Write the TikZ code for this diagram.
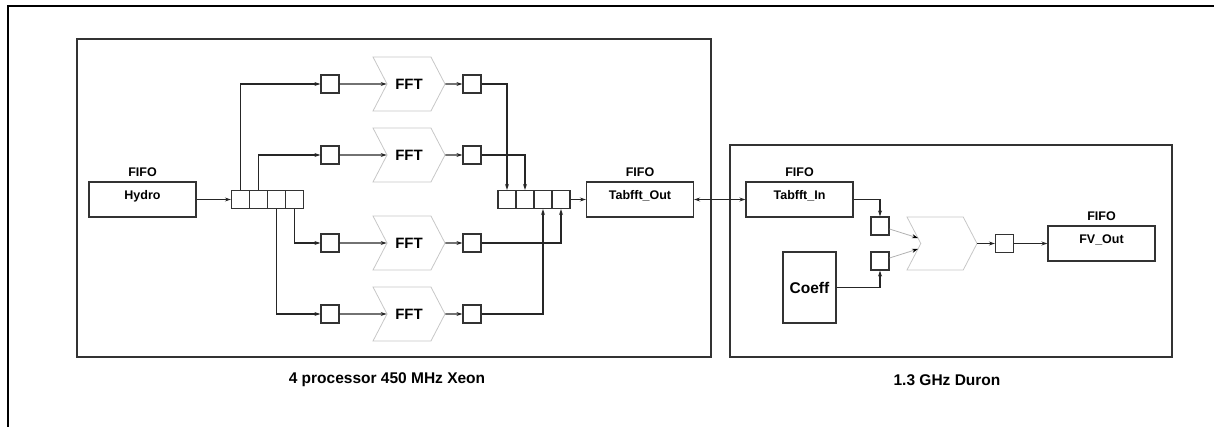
\documentclass[tikz,border=0pt]{standalone}
\usepackage{fontspec}
\setmainfont{Liberation Sans}
\usetikzlibrary{arrows.meta,positioning,shapes.symbols}
\tikzset{
  groupbox/.style={draw=black!80, line width=1.6pt, inner sep=0pt},
  fifobox/.style={draw=black!80, line width=1.3pt, minimum width=107pt,
    inner xsep=2pt, inner ysep=4pt, text height=13.5pt, text depth=13.5pt,
    font=\fontsize{12.5}{14}\selectfont\bfseries, label={[fifolabel]above:FIFO}},
  fifolabel/.style={font=\fontsize{12.5}{14}\selectfont\bfseries, inner sep=5pt},
  coeffbox/.style={draw=black!80, line width=1.3pt, minimum width=53pt,
    minimum height=71pt, inner sep=0pt, font=\fontsize{15.5}{17}\selectfont\bfseries},
  cellbox/.style={draw=black!80, line width=1.2pt, minimum width=18pt,
    minimum height=18pt, inner sep=0pt},
  fftshape/.style={shape=signal, signal from=west, signal to=east,
    signal pointer angle=125, draw=black!22, line width=0.8pt, minimum width=72pt,
    minimum height=54pt, inner sep=0pt, font=\fontsize{15}{17}\selectfont\bfseries},
  flowarrow/.style={-{Stealth[length=6pt,width=4pt]}, line width=1.1pt, draw=black!85},
  flowboth/.style={{Stealth[length=6pt,width=4pt]}-{Stealth[length=6pt,width=4pt]},
    line width=1.1pt, draw=black!85},
  feedarrow/.style={-{Stealth[length=6pt,width=4pt,black]}, line width=0.8pt, draw=black!30},
  caption/.style={font=\fontsize{15.5}{17}\selectfont\bfseries}
}

\begin{document}
\begin{tikzpicture}[x=1pt,y=-1pt]
  \useasboundingbox (0,0) rectangle (1214,427);
  \draw[line width=2.6pt] (8,427) -- (8,6) -- (1214,6);

  \node[groupbox, minimum width=634pt, minimum height=318pt] (xeon) at (394,198) {};
  \node[groupbox, minimum width=442pt, minimum height=212pt] (duron) at (951,251) {};
  \node[caption] (xeoncap) at (387,380) {4 processor 450 MHz Xeon};
  \node[caption] (duroncap) at (947,380) {1.3 GHz Duron};

  \node[fifobox] (hydro) at (142.5,199.5) {Hydro};
  \node[fifobox] (tabout) at (640,199.5) {Tabfft\_Out};
  \node[fifobox] (tabin) at (799.5,199.5) {Tabfft\_In};
  \node[fifobox] (fvout) at (1101.5,243.5) {FV\_Out};
  \node[coeffbox] (coeff) at (809.5,287.5) {Coeff};

  \foreach \i in {1,...,4} {
    \node[cellbox] (split\i) at ({222.5+18*\i},199.5) {};
    \node[cellbox] (merge\i) at ({489+18*\i},199.5) {};
  }
  \foreach \i/\y in {1/84,2/155,3/243,4/314} {
    \node[cellbox] (in\i) at (330,\y) {};
    \node[fftshape] (fft\i) at (409,\y) {FFT};
    \node[cellbox] (out\i) at (472,\y) {};
    \draw[flowarrow] (in\i) -- (fft\i);
    \draw[flowarrow] (fft\i) -- (out\i);
  }

  \draw[flowarrow] (hydro) -- (split1);
  \draw[flowarrow] (split1.north) |- (in1);
  \draw[flowarrow] (split2.north) |- (in2);
  \draw[flowarrow] (split4.south) |- (in3);
  \draw[flowarrow] (split3.south) |- (in4);
  \draw[flowarrow] (out1) -| (merge1);
  \draw[flowarrow] (out2) -| (merge2);
  \draw[flowarrow] (out3) -| (merge4);
  \draw[flowarrow] (out4) -| (merge3);
  \draw[flowarrow] (merge4) -- (tabout);
  \draw[flowboth] (tabout) -- (tabin);

  \node[cellbox] (dq1) at (880,226) {};
  \node[cellbox] (dq2) at (880,261) {};
  \node[fftshape, minimum width=70pt, minimum height=53pt] (mul) at (942,243.5) {};
  \node[cellbox] (dqout) at (1004.5,243.5) {};
  \draw[flowarrow] (tabin) -| (dq1);
  \draw[flowarrow] (coeff) -| (dq2);
  \draw[feedarrow] (dq1) -- ([xshift=-24pt,yshift=5.5pt]mul.center);
  \draw[feedarrow] (dq2) -- ([xshift=-24pt,yshift=-5.5pt]mul.center);
  \draw[flowarrow] (mul) -- (dqout);
  \draw[flowarrow] (dqout) -- (fvout);
\end{tikzpicture}
\end{document}
